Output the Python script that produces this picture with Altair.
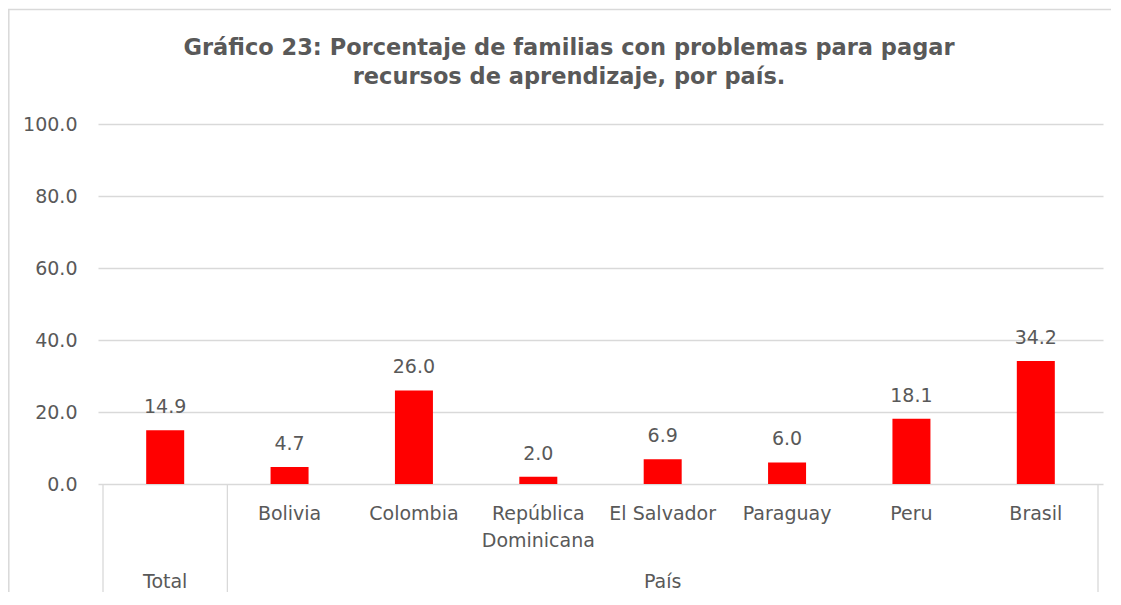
import altair as alt
import pandas as pd

categories = ["Total", "Bolivia", "Colombia", "República\nDominicana", "El Salvador",
              "Paraguay", "Peru", "Brasil"]
values = [14.9, 4.7, 26.0, 2.0, 6.9, 6.0, 18.1, 34.2]
groups = ["Total", "País"]
group_pos = [0, 4.0]
separators = [-0.5, 0.5, 7.5]
y_ticks = [0, 20, 40, 60, 80, 100]

title_lines = ["Gráfico 23: Porcentaje de familias con problemas para pagar",
               "recursos de aprendizaje, por país."]

FONT = "DejaVu Sans"
GRAY = "#595959"
GRID = "#d9d9d9"

W, H = 1005, 360
PAD_L, PAD_T, PAD_R, PAD_B = 90, 116, 8, 108

df = pd.DataFrame({"idx": list(range(len(categories))), "cat": categories, "val": values})
gdf = pd.DataFrame({"idx": group_pos, "g": groups})
sdf = pd.DataFrame({"idx": separators})
tdf = pd.DataFrame({"t": ["\n".join(title_lines)]})

xscale = alt.Scale(domain=[-0.5, 7.5], nice=False, zero=False)
yscale = alt.Scale(domain=[0, 100], nice=False)
X = alt.X("idx:Q", scale=xscale, axis=None)
Y = alt.Y("val:Q", scale=yscale,
          axis=alt.Axis(values=y_ticks, format=".1f", title=None, ticks=False,
                        domain=False, labelFontSize=19, labelColor=GRAY,
                        labelFont=FONT, labelPadding=21, gridColor=GRID,
                        gridWidth=1.3))

bars = alt.Chart(df).mark_bar(size=38, color="#ff0000").encode(x=X, y=Y)

labels = alt.Chart(df).mark_text(font=FONT, fontSize=19, color=GRAY, baseline="bottom",
                                 dy=-13).encode(
    x=X, y=Y, text=alt.Text("val:Q", format=".1f"))

cat_labels = alt.Chart(df).transform_filter("datum.idx > 0").mark_text(
    font=FONT, fontSize=19, color=GRAY, baseline="middle",
    lineBreak="\n", lineHeight=27).encode(
    x=X, y=alt.value(30 + H), text="cat:N")

grp_labels = alt.Chart(gdf).mark_text(font=FONT, fontSize=19, color=GRAY,
                                      baseline="middle").encode(
    x=X, y=alt.value(98 + H), text="g:N")

seps = alt.Chart(sdf).mark_rule(color=GRID, strokeWidth=1.3).encode(
    x=X, y=alt.value(H), y2=alt.value(H + PAD_B))

border_left = alt.Chart(gdf.head(1)).mark_rule(color=GRID, strokeWidth=1.5).encode(
    x=alt.value(-PAD_L + 0.8), y=alt.value(-PAD_T + 1), y2=alt.value(H + PAD_B))
border_top = alt.Chart(gdf.head(1)).mark_rule(color=GRID, strokeWidth=1.5).encode(
    x=alt.value(-PAD_L), x2=alt.value(W + PAD_R), y=alt.value(-PAD_T + 1.5))

title = alt.Chart(tdf).mark_text(font=FONT, fontSize=22.5, fontWeight="bold", color=GRAY,
                                 align="center", baseline="alphabetic",
                                 lineBreak="\n", lineHeight=29).encode(
    x=alt.value(471), y=alt.value(-69), text="t:N")

chart = alt.layer(bars, labels, cat_labels, grp_labels, seps,
                  border_left, border_top, title).properties(
    width=W, height=H,
    autosize=alt.AutoSizeParams(type="none"),
    padding={"left": PAD_L, "top": PAD_T, "right": PAD_R, "bottom": PAD_B},
).configure_view(stroke=None)

chart.save("out.html", embed_options={"renderer": "svg", "actions": False})
